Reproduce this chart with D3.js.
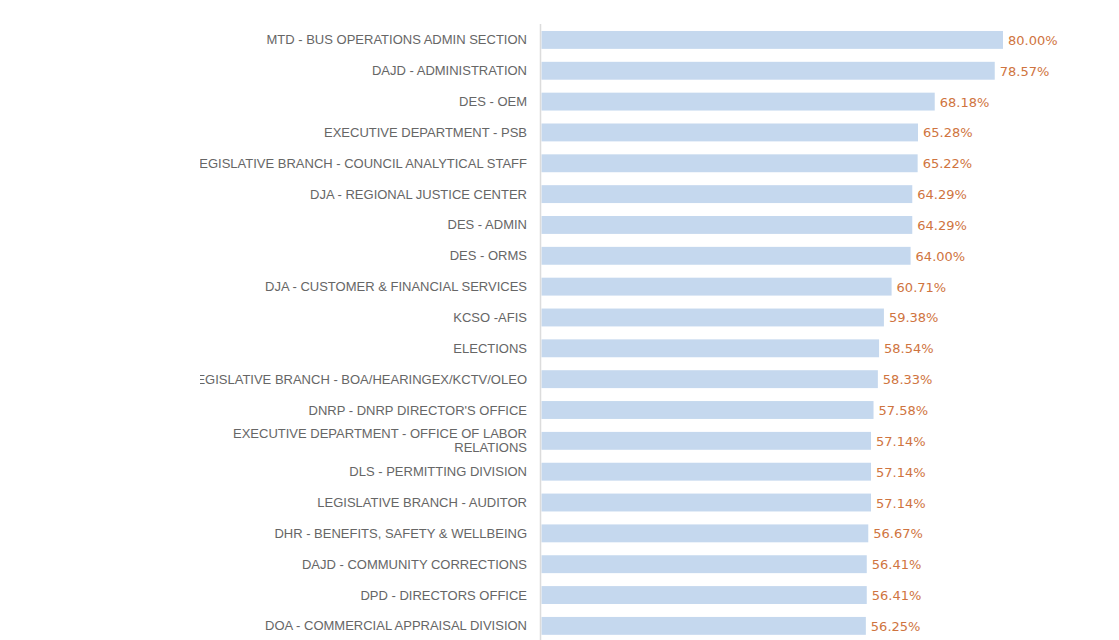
<!DOCTYPE html>
<html>
<head>
<meta charset="utf-8">
<script src="https://cdn.jsdelivr.net/npm/d3@7"></script>
<style>
  body { margin: 0; background: #fff; }
  svg { display: block; }
</style>
</head>
<body>
<div id="chart"></div>
<script>
var departments = [
  "MTD - BUS OPERATIONS ADMIN SECTION",
  "DAJD - ADMINISTRATION",
  "DES - OEM",
  "EXECUTIVE DEPARTMENT - PSB",
  "LEGISLATIVE BRANCH - COUNCIL ANALYTICAL STAFF",
  "DJA - REGIONAL JUSTICE CENTER",
  "DES - ADMIN",
  "DES - ORMS",
  "DJA - CUSTOMER & FINANCIAL SERVICES",
  "KCSO -AFIS",
  "ELECTIONS",
  "LEGISLATIVE BRANCH - BOA/HEARINGEX/KCTV/OLEO",
  "DNRP - DNRP DIRECTOR'S OFFICE",
  "EXECUTIVE DEPARTMENT - OFFICE OF LABOR RELATIONS",
  "DLS - PERMITTING DIVISION",
  "LEGISLATIVE BRANCH - AUDITOR",
  "DHR - BENEFITS, SAFETY & WELLBEING",
  "DAJD - COMMUNITY CORRECTIONS",
  "DPD - DIRECTORS OFFICE",
  "DOA - COMMERCIAL APPRAISAL DIVISION"
];
var percents = [80.00, 78.57, 68.18, 65.28, 65.22, 64.29, 64.29, 64.00, 60.71, 59.38,
                58.54, 58.33, 57.58, 57.14, 57.14, 57.14, 56.67, 56.41, 56.41, 56.25];
var xDomain = [0, 100];

var width = 1119, height = 640;
var axisX = 541, labelRight = 527, labelLeft = 200;

var svg = d3.select("#chart").append("svg")
  .attr("width", width)
  .attr("height", height);

var x = d3.scaleLinear().domain(xDomain).range([axisX, axisX + 577.5]);
var y = d3.scaleBand().domain(departments).range([24.5, 641.3])
  .paddingInner(0.42).paddingOuter(0.21);

svg.append("clipPath").attr("id", "label-clip")
  .append("rect")
  .attr("x", labelLeft).attr("y", 0)
  .attr("width", labelRight - labelLeft + 4).attr("height", height);

// bars
svg.selectAll(".bar")
  .data(percents)
  .enter().append("rect")
  .attr("class", "bar")
  .attr("x", x(0) + 0.5)
  .attr("y", function(d, i) { return y(departments[i]); })
  .attr("width", function(d) { return x(d) - x(0) - 0.5; })
  .attr("height", y.bandwidth())
  .style("fill", "#c5d8ee");

// axis line
svg.append("line")
  .attr("x1", axisX - 0.5).attr("x2", axisX - 0.5)
  .attr("y1", 24).attr("y2", height)
  .style("stroke", "#dcdcdc")
  .style("stroke-width", 1.5);

// category labels
var labels = svg.append("g").attr("clip-path", "url(#label-clip)")
  .selectAll("text")
  .data(departments)
  .enter().append("text")
  .attr("x", labelRight)
  .attr("text-anchor", "end")
  .style("font-family", "'Liberation Sans', Arial, sans-serif")
  .style("font-size", "13px")
  .style("fill", "#666");

labels.each(function(d) {
  var t = d3.select(this);
  var cy = y(d) + y.bandwidth() / 2;
  if (d === "EXECUTIVE DEPARTMENT - OFFICE OF LABOR RELATIONS") {
    t.append("tspan").attr("x", labelRight).attr("y", cy - 2.5).text("EXECUTIVE DEPARTMENT - OFFICE OF LABOR");
    t.append("tspan").attr("x", labelRight).attr("y", cy + 11).text("RELATIONS");
  } else {
    t.attr("y", cy + 4.5).text(d);
  }
});

// value labels
svg.selectAll(".val")
  .data(percents)
  .enter().append("text")
  .attr("class", "val")
  .attr("x", function(d) { return x(d) + 5; })
  .attr("y", function(d, i) { return y(departments[i]) + y.bandwidth() / 2 + 5; })
  .style("font-family", "'DejaVu Sans', Verdana, sans-serif")
  .style("font-size", "13px")
  .style("fill", "#cf7440")
  .text(function(d) { return d.toFixed(2) + "%"; });
</script>
</body>
</html>
